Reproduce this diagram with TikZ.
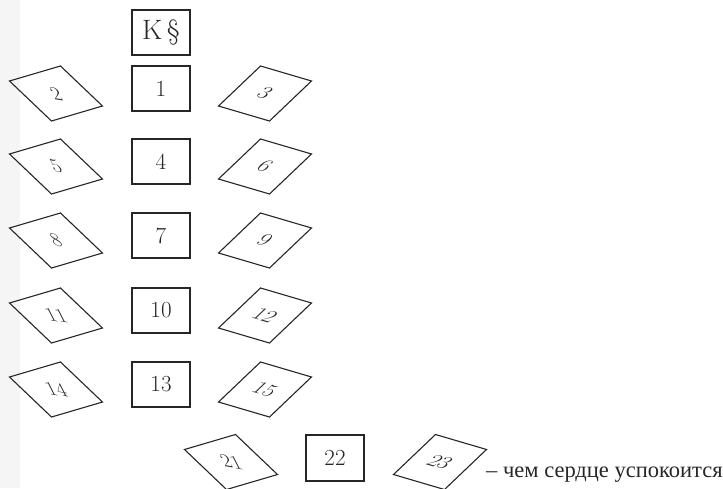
\documentclass[tikz,border=0pt]{standalone}
\usepackage{fontspec}
\newfontfamily\cyrfont{Liberation Serif}
\begin{document}
\begin{tikzpicture}[x=1pt,y=1pt,
  frame/.style={draw=black!85, line width=1.1pt, inner sep=0pt,
    text=black!85, font=\fontsize{22}{26}\selectfont},
  sq/.style={frame, minimum width=58pt, minimum height=45pt,
    font=\fontsize{23}{27}\selectfont},
  lrh/.style={frame, minimum width=53pt, minimum height=58pt,
    cm={0.962,0.283,-0.724,0.690,(0,0)}},
  ltx/.style={inner sep=0pt, text=black!85, font=\fontsize{22}{26}\selectfont,
    cm={0.98,-0.17,-0.45,0.88,(0,0)}},
  rrh/.style={frame, minimum width=53pt, minimum height=58pt,
    cm={0.962,-0.283,0.724,0.690,(0,0)}}]
\useasboundingbox (0,0) rectangle (723,-488);
\fill[black!4] (0,0) rectangle (20,-488);
\node[sq, font=\fontsize{28}{32}\selectfont] (k) at (161,-32.5) {K\,\S};
\foreach \c/\l/\r/\y in {1/2/3/88.5, 4/5/6/161.5, 7/8/9/235.5,
                         10/11/12/310.5, 13/14/15/384.5} {
  \node[sq]  (n\c) at (161,-\y)   {\c};
  \node[lrh] (n\l) at (56,-\y-5)  {};
  \node[ltx] (t\l) at (n\l.center) {\l};
  \node[rrh] (n\r) at (265,-\y-5) {\r};
}
\node[sq, minimum height=46pt] (n22) at (335,-458) {22};
\node[lrh] (n21) at (231,-462) {};
\node[ltx] (t21) at (n21.center) {21};
\node[rrh] (n23) at (440,-462) {23};
\node[anchor=base west, inner sep=0pt, text=black!85,
  font=\cyrfont\fontsize{22.5}{26}\selectfont] (txt) at (486,-477)
  {– чем сердце успокоится};
\end{tikzpicture}
\end{document}
